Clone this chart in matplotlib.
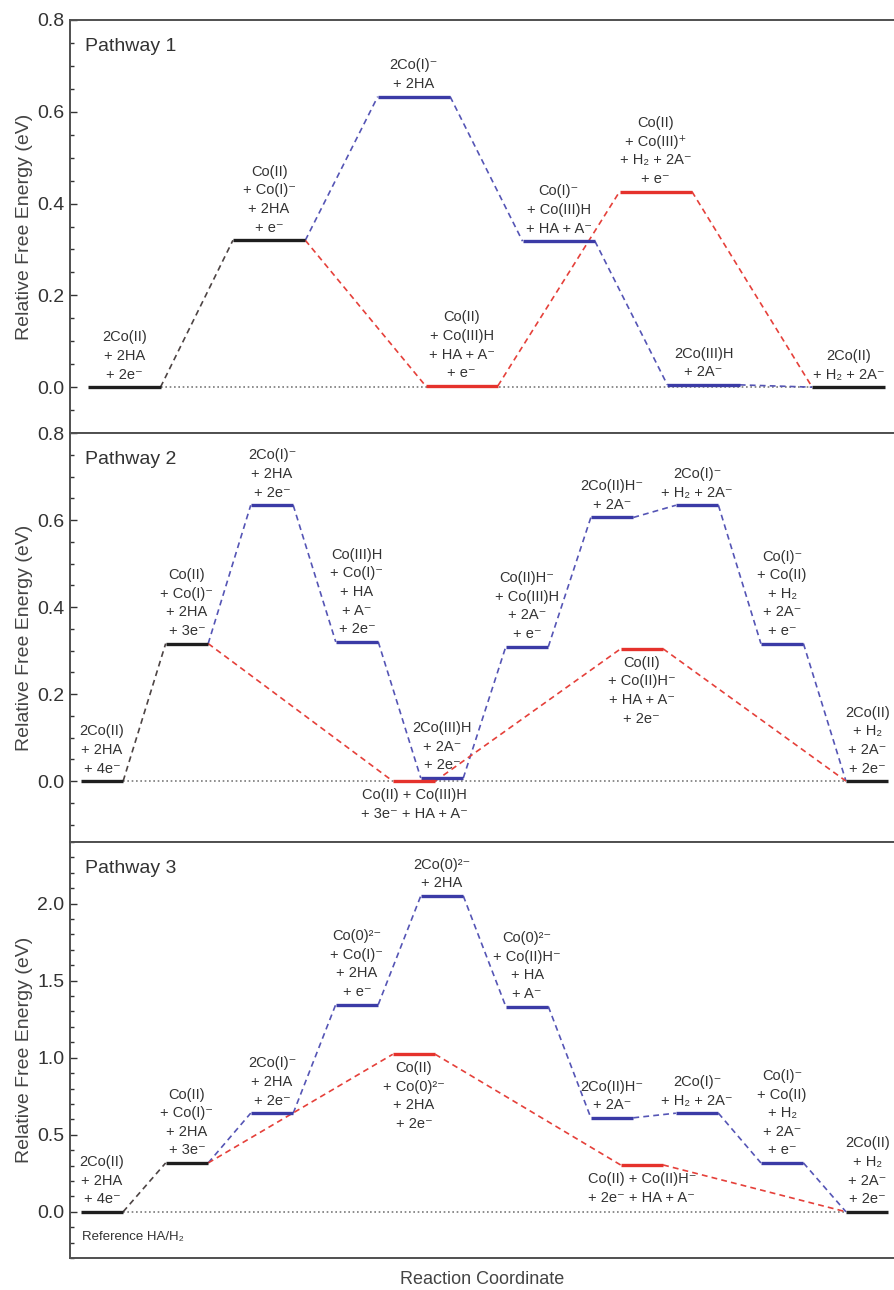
import numpy as np
import matplotlib.pyplot as plt
from matplotlib.ticker import MultipleLocator

plt.rcParams['font.family'] = ['Liberation Sans', 'DejaVu Sans']

# ---------------- data ----------------
# main (black/blue) path: one level per slot
p1_energy = [0.0, 0.32, 0.633, 0.318, 0.005, 0.0]
p1_kind = ['k', 'k', 'b', 'b', 'b', 'k']
p1_labels = ['2Co(II)\n+ 2HA\n+ 2e⁻',
             'Co(II)\n+ Co(I)⁻\n+ 2HA\n+ e⁻',
             '2Co(I)⁻\n+ 2HA',
             'Co(I)⁻\n+ Co(III)H\n+ HA + A⁻',
             '2Co(III)H\n+ 2A⁻',
             '2Co(II)\n+ H₂ + 2A⁻']
# red branch
p1_red_slot = [2.33, 3.67]
p1_red_energy = [0.003, 0.426]
p1_red_labels = ['Co(II)\n+ Co(III)H\n+ HA + A⁻\n+ e⁻',
                 'Co(II)\n+ Co(III)⁺\n+ H₂ + 2A⁻\n+ e⁻']

p2_energy = [0.0, 0.316, 0.634, 0.32, 0.007, 0.309, 0.606, 0.634, 0.316, 0.0]
p2_kind = ['k', 'k', 'b', 'b', 'b', 'b', 'b', 'b', 'b', 'k']
p2_labels = ['2Co(II)\n+ 2HA\n+ 4e⁻',
             'Co(II)\n+ Co(I)⁻\n+ 2HA\n+ 3e⁻',
             '2Co(I)⁻\n+ 2HA\n+ 2e⁻',
             'Co(III)H\n+ Co(I)⁻\n+ HA\n+ A⁻\n+ 2e⁻',
             '2Co(III)H\n+ 2A⁻\n+ 2e⁻',
             'Co(II)H⁻\n+ Co(III)H\n+ 2A⁻\n+ e⁻',
             '2Co(II)H⁻\n+ 2A⁻',
             '2Co(I)⁻\n+ H₂ + 2A⁻',
             'Co(I)⁻\n+ Co(II)\n+ H₂\n+ 2A⁻\n+ e⁻',
             '2Co(II)\n+ H₂\n+ 2A⁻\n+ 2e⁻']
p2_red_slot = [3.67, 6.35]
p2_red_energy = [0.0, 0.304]
p2_red_labels = ['Co(II) + Co(III)H\n+ 3e⁻ + HA + A⁻',
                 'Co(II)\n+ Co(II)H⁻\n+ HA + A⁻\n+ 2e⁻']

p3_energy = [0.0, 0.317, 0.64, 1.345, 2.05, 1.332, 0.61, 0.64, 0.317, 0.0]
p3_kind = ['k', 'k', 'b', 'b', 'b', 'b', 'b', 'b', 'b', 'k']
p3_labels = ['2Co(II)\n+ 2HA\n+ 4e⁻',
             'Co(II)\n+ Co(I)⁻\n+ 2HA\n+ 3e⁻',
             '2Co(I)⁻\n+ 2HA\n+ 2e⁻',
             'Co(0)²⁻\n+ Co(I)⁻\n+ 2HA\n+ e⁻',
             '2Co(0)²⁻\n+ 2HA',
             'Co(0)²⁻\n+ Co(II)H⁻\n+ HA\n+ A⁻',
             '2Co(II)H⁻\n+ 2A⁻',
             '2Co(I)⁻\n+ H₂ + 2A⁻',
             'Co(I)⁻\n+ Co(II)\n+ H₂\n+ 2A⁻\n+ e⁻',
             '2Co(II)\n+ H₂\n+ 2A⁻\n+ 2e⁻']
p3_red_slot = [3.67, 6.35]
p3_red_energy = [1.022, 0.304]
p3_red_labels = ['Co(II)\n+ Co(0)²⁻\n+ 2HA\n+ 2e⁻',
                 'Co(II) + Co(II)H⁻\n+ 2e⁻ + HA + A⁻']

level_col = {'k': '#1e1e1e', 'b': '#3b3ba6', 'r': '#e5322c'}
dash_col = {'k': '#4d4444', 'b': '#5555b5', 'r': '#e5403a'}
txt_col = '#333333'
lab_fs = 10.5
ls = 1.42


def label(ax, x, y, s, below=False):
    if below:
        ax.annotate(s, (x, y), xytext=(0, -5), textcoords='offset points',
                    ha='center', va='top', fontsize=lab_fs, color=txt_col,
                    linespacing=ls)
    else:
        ax.annotate(s, (x, y), xytext=(0, 4), textcoords='offset points',
                    ha='center', va='bottom', fontsize=lab_fs, color=txt_col,
                    linespacing=ls)


def draw_panel(ax, energy, kind, labels, red_slot, red_energy, red_labels,
               red_below, title, ylim, major, minor):
    n = len(energy)
    # dotted zero reference
    ax.plot([1, 2 * (n - 1)], [0, 0], ls=(0, (1, 1.6)), color='#7a7a7a', lw=1.2, zorder=1)
    # main path connectors
    for i in range(n - 1):
        c = 'k' if kind[i] == 'k' and kind[i + 1] == 'k' else 'b'
        ax.plot([2 * i + 1, 2 * i + 2], [energy[i], energy[i + 1]],
                ls=(0, (3.5, 2.5)), color=dash_col[c], lw=1.2, zorder=2)
    # red branch connectors
    rx = [2 * s for s in red_slot]
    ax.plot([3, rx[0]], [energy[1], red_energy[0]], ls=(0, (3.5, 2.5)),
            color=dash_col['r'], lw=1.2, zorder=2)
    ax.plot([rx[0] + 1, rx[1]], [red_energy[0], red_energy[1]], ls=(0, (3.5, 2.5)),
            color=dash_col['r'], lw=1.2, zorder=2)
    ax.plot([rx[1] + 1, 2 * (n - 1)], [red_energy[1], energy[-1]], ls=(0, (3.5, 2.5)),
            color=dash_col['r'], lw=1.2, zorder=2)
    # levels
    for i in range(n):
        ax.plot([2 * i, 2 * i + 1], [energy[i], energy[i]], color=level_col[kind[i]],
                lw=2.4, solid_capstyle='butt', zorder=3)
        label(ax, 2 * i + 0.5, energy[i], labels[i])
    for j in range(len(red_slot)):
        ax.plot([rx[j], rx[j] + 1], [red_energy[j], red_energy[j]], color=level_col['r'],
                lw=2.4, solid_capstyle='butt', zorder=3)
        label(ax, rx[j] + 0.5, red_energy[j], red_labels[j], below=red_below)

    ax.set_xlim(-0.25, 2 * n - 1 + 0.13)
    ax.set_ylim(*ylim)
    ax.yaxis.set_major_locator(MultipleLocator(major))
    ax.yaxis.set_minor_locator(MultipleLocator(minor))
    ax.set_xticks([])
    ax.tick_params(axis='y', which='major', direction='in', length=5, width=1,
                   labelsize=14, colors='#333333', pad=4)
    ax.tick_params(axis='y', which='minor', direction='in', length=3, width=1,
                   colors='#333333')
    ax.spines['right'].set_visible(False)
    for sp in ['left', 'top', 'bottom']:
        ax.spines[sp].set_color('#505050')
        ax.spines[sp].set_linewidth(1.4)
    ax.set_ylabel('Relative Free Energy (eV)', fontsize=14, color='#444444', labelpad=3)
    ax.text(0.018, 0.936, title, transform=ax.transAxes, fontsize=14,
            color='#333333', va='center', ha='left')


fig = plt.figure(figsize=(8.94, 12.9), dpi=100)
ax1 = fig.add_axes([0.0783, 0.6643, 0.9217, 0.3202])
ax2 = fig.add_axes([0.0783, 0.3473, 0.9217, 0.3170])
ax3 = fig.add_axes([0.0783, 0.0248, 0.9217, 0.3225])

draw_panel(ax1, p1_energy, p1_kind, p1_labels, p1_red_slot, p1_red_energy,
           p1_red_labels, False, 'Pathway 1', (-0.1, 0.8), 0.2, 0.05)
draw_panel(ax2, p2_energy, p2_kind, p2_labels, p2_red_slot, p2_red_energy,
           p2_red_labels, True, 'Pathway 2', (-0.14, 0.8), 0.2, 0.05)
draw_panel(ax3, p3_energy, p3_kind, p3_labels, p3_red_slot, p3_red_energy,
           p3_red_labels, True, 'Pathway 3', (-0.3, 2.4), 0.5, 0.1)

ax3.text(0.015, 0.05, 'Reference HA/H₂', transform=ax3.transAxes, fontsize=9.5,
         color='#333333', va='center', ha='left')
ax3.set_xlabel('Reaction Coordinate', fontsize=13, color='#444444', labelpad=9)

fig.savefig('out.png', dpi=100)
